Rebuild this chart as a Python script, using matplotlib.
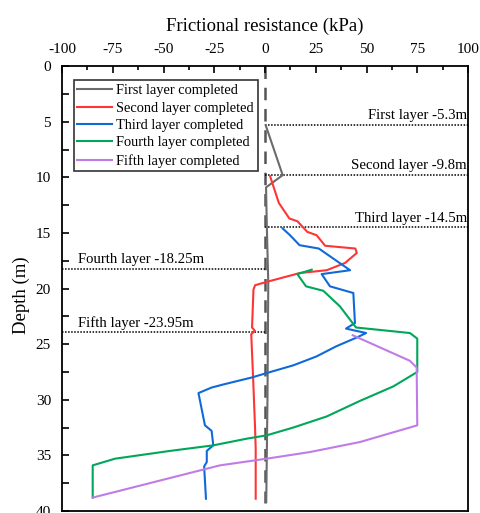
import matplotlib.pyplot as plt
from matplotlib.ticker import MultipleLocator

plt.rcParams['font.family'] = ['Liberation Serif', 'DejaVu Serif']
plt.rcParams['axes.unicode_minus'] = False

# Friction (kPa) vs depth (m) for each construction stage
first_x = [0.3, 8.7, 0.5, 0.9, 1.6, 1.2, 0.6]
first_d = [5.3, 9.8, 10.9, 14.5, 19.5, 30.0, 39.2]

second_x = [2.5, 6.8, 12.0, 16.0, 20.8, 25.4, 29.6, 44.5, 45.2, 39.4, 30.4, 17.2, 0.8, -4.9, -5.7,
            -6.4, -5.0, -6.8, -5.9, -4.9, -4.6, -4.6]
second_d = [9.9, 12.3, 13.7, 13.95, 14.9, 15.2, 16.15, 16.4, 16.8, 17.7, 18.35, 18.6, 19.4, 19.7, 20.1,
            23.5, 23.8, 24.1, 27.9, 32.6, 34.4, 38.9]

third_x = [8.7, 12.3, 17.0, 26.5, 41.9, 27.9, 32.0, 43.5, 44.3, 39.9, 49.8, 45.2, 35.0, 25.4, 14.0, 0.8,
           -6.6, -20.0, -26.3, -32.8, -29.6, -26.3, -25.5, -28.7, -28.7, -30.0, -29.1]
third_d = [14.6, 15.2, 16.1, 16.4, 18.35, 18.7, 19.8, 20.4, 23.1, 23.6, 24.0, 24.4, 25.2, 26.1, 26.9, 27.6,
           28.0, 28.6, 28.9, 29.4, 32.3, 32.8, 34.1, 34.6, 35.6, 36.0, 38.9]

fourth_x = [23.0, 15.9, 20.2, 28.7, 36.9, 44.8, 71.4, 75.0, 75.0, 63.2, 46.8, 30.4, 13.9, 0.8, -9.0,
            -25.5, -46.8, -73.9, -84.9, -84.9]
fourth_d = [18.3, 18.7, 19.8, 20.2, 21.6, 23.5, 24.0, 24.5, 27.5, 28.8, 30.1, 31.5, 32.5, 33.2, 33.5,
            34.1, 34.6, 35.3, 35.9, 38.8]

fifth_x = [43.2, 71.4, 74.7, 75.0, 46.8, 22.2, 0.8, -22.2, -28.7, -84.9]
fifth_d = [24.2, 26.5, 27.1, 32.3, 33.8, 34.7, 35.3, 35.9, 36.2, 38.8]

series = [
    ('First layer completed', first_x, first_d, '#6b6b6b'),
    ('Second layer completed', second_x, second_d, '#ff3535'),
    ('Third layer completed', third_x, third_d, '#0f6ad8'),
    ('Fourth layer completed', fourth_x, fourth_d, '#00a65a'),
    ('Fifth layer completed', fifth_x, fifth_d, '#c07ce6'),
]

layer_names = ['First layer -5.3m', 'Second layer -9.8m', 'Third layer -14.5m',
               'Fourth layer -18.25m', 'Fifth layer -23.95m']
layer_depths = [5.3, 9.8, 14.5, 18.25, 23.95]

fig = plt.figure(figsize=(4.81, 5.13), dpi=100)
ax = fig.add_axes([0.129, 0.004, 0.844, 0.867])

# pile axis reference line
ax.vlines(0, 0, 39.3, colors='#555555', lw=1.8, linestyles=(0, (5, 3.5)), zorder=1)

for name, xs, ds, c in series:
    ax.plot(xs, ds, color=c, lw=1.5, label=name, zorder=3)

# layer boundaries
for i, (name, d) in enumerate(zip(layer_names, layer_depths)):
    if i < 3:
        ax.hlines(d, 0, 100, colors='black', linestyles=(0, (1, 1)), lw=1.1, zorder=2)
        ax.text(99.5, d - 0.25, name, ha='right', va='bottom', fontsize=10.6)
    else:
        ax.hlines(d, -100, 0, colors='black', linestyles=(0, (1, 1)), lw=1.1, zorder=2)
        ax.text(-92, d - 0.25, name, ha='left', va='bottom', fontsize=10.6)

ax.set_xlim(-100, 100)
ax.set_ylim(40, 0)
ax.xaxis.tick_top()
ax.xaxis.set_label_position('top')
ax.xaxis.set_major_locator(MultipleLocator(25))
ax.xaxis.set_minor_locator(MultipleLocator(12.5))
ax.yaxis.set_major_locator(MultipleLocator(5))
ax.yaxis.set_minor_locator(MultipleLocator(2.5))
ax.tick_params(which='both', direction='in', top=True, bottom=False, left=True, right=False,
               labelsize=11, width=1.2)
ax.tick_params(which='major', length=5)
ax.tick_params(which='minor', length=3)
ax.tick_params(axis='y', which='minor', length=5)
ax.tick_params(axis='x', which='major', pad=7.5)
ax.tick_params(axis='y', which='major', pad=8)
ax.set_xlabel('Frictional resistance (kPa)', fontsize=13.5, labelpad=8.5)
ax.set_ylabel('Depth (m)', fontsize=13.5)
ax.yaxis.set_label_coords(-0.079, 0.485)
for s in ax.spines.values():
    s.set_linewidth(1.3)

leg = ax.legend(loc='upper left', bbox_to_anchor=(0.029, 0.968), fontsize=10.4, frameon=True,
                fancybox=False, edgecolor='black', handlelength=2.4, handletextpad=0.3,
                labelspacing=0.3, borderpad=0.25, borderaxespad=0)
leg.get_frame().set_linewidth(1.2)

fig.savefig('out.png', dpi=100)
